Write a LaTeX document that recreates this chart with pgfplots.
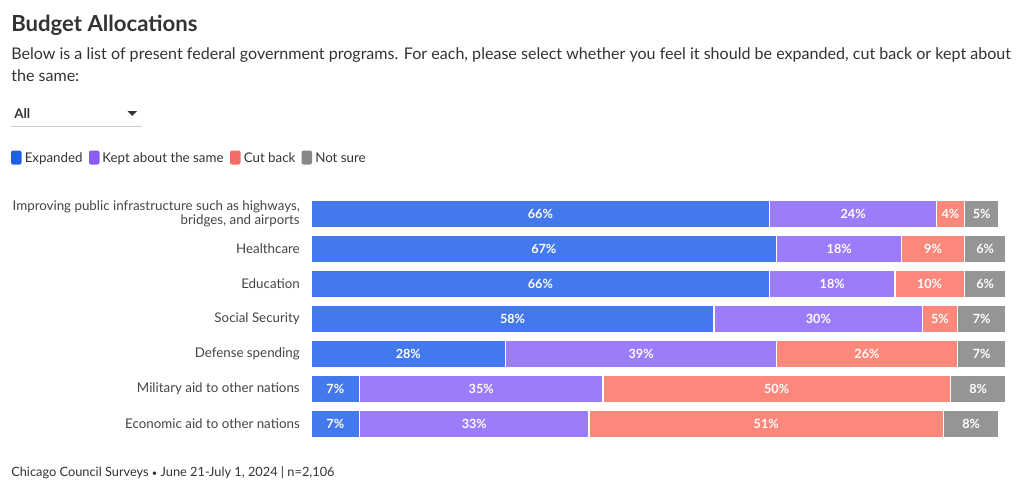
\documentclass[border=0pt]{standalone}
\usepackage{pgfplots}
\usepackage{pgfplotstable}
\pgfplotsset{compat=1.18}
\usepackage{fontspec}
\setmainfont{Lato}
\definecolor{cblue}{HTML}{4479EE}
\definecolor{cpurple}{HTML}{9C7CFA}
\definecolor{cred}{HTML}{FC887B}
\definecolor{cgrey}{HTML}{959595}
\definecolor{lblue}{HTML}{1D5FE8}
\definecolor{lpurple}{HTML}{8A5CF6}
\definecolor{lred}{HTML}{F46A64}
\definecolor{lgrey}{HTML}{888888}
\definecolor{txt}{HTML}{333333}
\definecolor{lab}{HTML}{444444}
\pgfplotstableread{
idx exp kept cut unsure
0 66 24 4 5
1 67 18 9 6
2 66 18 10 6
3 58 30 5 7
4 28 39 26 7
5 7 35 50 8
6 7 33 51 8
}\datatable
\begin{document}
\begin{tikzpicture}[x=0.75pt,y=-0.75pt]
\path[use as bounding box] (0,0) rectangle (1020,492);
\node[anchor=base west,inner sep=0pt,text=txt] at (11,32) {\fontsize{16.6}{20}\selectfont\bfseries Budget Allocations};
\node[anchor=base west,inner sep=0pt,text=txt] at (11,60) {\fontsize{12.05}{14}\selectfont Below is a list of present federal government programs. For each, please select whether you feel it should be expanded, cut back or kept about};
\node[anchor=base west,inner sep=0pt,text=txt] at (11,82) {\fontsize{12.05}{14}\selectfont the same:};
\node[anchor=base west,inner sep=0pt,text=txt] at (14,118) {\fontsize{10}{12}\selectfont\bfseries All};
\draw[color=black!20,line width=0.75pt] (11,126) -- (142,126);
\fill[txt] (127.5,111) -- (137,111) -- (132.25,116) -- cycle;
% legend
\fill[lblue,rounded corners=1.5pt] (11,150.5) rectangle (21.5,164.5);
\node[anchor=base west,inner sep=0pt,text=txt] at (24.5,162) {\fontsize{10}{12}\selectfont Expanded};
\fill[lpurple,rounded corners=1.5pt] (89,150.5) rectangle (99.5,164.5);
\node[anchor=base west,inner sep=0pt,text=txt] at (102,162) {\fontsize{10}{12}\selectfont Kept about the same};
\fill[lred,rounded corners=1.5pt] (230,150.5) rectangle (240.5,164.5);
\node[anchor=base west,inner sep=0pt,text=txt] at (243.5,162) {\fontsize{10}{12}\selectfont Cut back};
\fill[lgrey,rounded corners=1.5pt] (301.5,150.5) rectangle (312,164.5);
\node[anchor=base west,inner sep=0pt,text=txt] at (315,162) {\fontsize{10}{12}\selectfont Not sure};
% footer
\node[anchor=base west,inner sep=0pt,text=txt] at (11,476) {\fontsize{9.6}{12}\selectfont Chicago Council Surveys {\fontsize{7}{8}\selectfont\textbullet}\ June 21-July 1, 2024 | n=2,106};
\begin{axis}[
  at={(233.25pt,-331.125pt)}, anchor=south west,
  scale only axis, width=521.25pt, height=183.75pt,
  xbar stacked, bar width=21pt,
  xmin=0, xmax=100, ymin=-0.5, ymax=6.5, y dir=reverse,
  axis line style={draw=none}, major tick length=0pt,
  xtick=\empty,
  ytick={0,1,2,3,4,5,6},
  yticklabels={{Improving public infrastructure such as highways,\\bridges, and airports},Healthcare,Education,Social Security,Defense spending,Military aid to other nations,Economic aid to other nations},
  yticklabel style={align=right, font=\fontsize{10}{10.5}\selectfont, text=lab, inner sep=0pt, xshift=-8.25pt},
  point meta=explicit,
  /pgf/number format/assume math mode=true,
  nodes near coords={\pgfmathprintnumber{\pgfplotspointmeta}\%},
  every node near coord/.append style={text=white, font=\fontsize{9.5}{11}\selectfont\bfseries},
  clip=false,
]
\addplot[fill=cblue, draw=white, line width=1.1pt] table[x=exp,y=idx,meta=exp] \datatable;
\addplot[fill=cpurple, draw=white, line width=1.1pt] table[x=kept,y=idx,meta=kept] \datatable;
\addplot[fill=cred, draw=white, line width=1.1pt] table[x=cut,y=idx,meta=cut] \datatable;
\addplot[fill=cgrey, draw=white, line width=1.1pt] table[x=unsure,y=idx,meta=unsure] \datatable;
\end{axis}
\end{tikzpicture}
\end{document}
